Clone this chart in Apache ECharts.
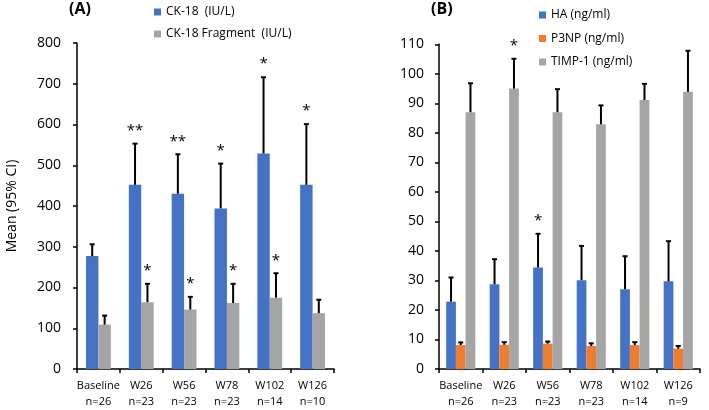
<!DOCTYPE html>
<html><head><meta charset="utf-8">
<script src="https://cdn.jsdelivr.net/npm/echarts@6/dist/echarts.min.js"></script>
<style>html,body{margin:0;padding:0;background:#fff}#c{width:709px;height:410px}</style>
</head><body><div id="c"></div>
<script>
// ---- data ----
const catsA = ['Baseline\nn=26','W26\nn=23','W56\nn=23','W78\nn=23','W102\nn=14','W126\nn=10'];
const catsB = ['Baseline\nn=26','W26\nn=23','W56\nn=23','W78\nn=23','W102\nn=14','W126\nn=9'];
const yTicksA = [0, 800, 100];   // min, max, interval
const yTicksB = [0, 110, 10];

const ck18      = [277, 452, 430, 394, 529, 452];
const ck18Upper = [306, 553, 527, 504, 716, 601];
const ck18Sig   = ['', '**', '**', '*', '*', '*'];

const ckFrag      = [109, 164, 146, 162, 175, 137];
const ckFragUpper = [131, 209, 177, 209, 235, 170];
const ckFragSig   = ['', '*', '*', '*', '*', ''];

const ha      = [22.8, 28.7, 34.4, 30.1, 27.0, 29.7];
const haUpper = [31.0, 37.2, 45.8, 41.7, 38.2, 43.3];
const haSig   = ['', '', '*', '', '', ''];

const p3np      = [8.1, 8.2, 8.6, 7.8, 8.1, 6.9];
const p3npUpper = [9.0, 9.1, 9.3, 8.7, 9.1, 7.8];
const p3npSig   = ['', '', '', '', '', ''];

const timp      = [87.0, 95.0, 87.0, 82.9, 91.1, 93.9];
const timpUpper = [96.8, 105.1, 94.8, 89.3, 96.6, 107.8];
const timpSig   = ['', '*', '', '', '', ''];

// ---- styles ----
const FONT = 'Open Sans';
const BLUE = '#4472C4', GREY = '#A5A5A5', ORANGE = '#ED7D31';
const gapA = 0.42, gapB = 0.33;

function errSeries(name, vals, upper, sig, idx, n, gap, axis) {
  return {
    type: 'custom', name: name + '_err', xAxisIndex: axis, yAxisIndex: axis, z: 10, clip: false,
    silent: true,
    data: vals.map((v, i) => [i, v, upper[i]]),
    renderItem: function (params, api) {
      const x = api.value(0), v = api.value(1), e = api.value(2);
      const band = api.size([1, 0])[0];
      const total = band * (1 - gap);
      const bw = total / n;
      const base = api.coord([x, v]);
      const cx = base[0] - total / 2 + bw * (idx + 0.5);
      const top = api.coord([x, e])[1];
      const children = [
        { type: 'line', shape: { x1: cx, y1: base[1], x2: cx, y2: top }, style: { stroke: '#000', lineWidth: 2 } },
        { type: 'line', shape: { x1: cx - 2.5, y1: top, x2: cx + 2.5, y2: top }, style: { stroke: '#000', lineWidth: 2 } }
      ];
      const s = sig[params.dataIndex];
      if (s) {
        children.push({ type: 'text', style: { text: s, x: cx, y: top - 13, align: 'center', verticalAlign: 'middle', font: '15px "' + FONT + '"', fill: '#000' } });
      }
      return { type: 'group', children: children };
    }
  };
}

function barSeries(name, vals, color, axis, gap) {
  return { type: 'bar', name: name, data: vals, xAxisIndex: axis, yAxisIndex: axis,
    itemStyle: { color: color }, barGap: '0%', barCategoryGap: (gap * 100) + '%' };
}

function xAxis(cats, grid) {
  return { type: 'category', data: cats, gridIndex: grid,
    axisLine: { lineStyle: { color: '#000', width: 1.5 } },
    axisTick: { show: true, length: 4, lineStyle: { color: '#000', width: 1.5 } },
    axisLabel: { fontFamily: FONT, fontSize: 11, color: '#000', lineHeight: 16, margin: 9, interval: 0 } };
}
function yAxis(t, grid, extra) {
  return Object.assign({ type: 'value', gridIndex: grid, min: t[0], max: t[1], interval: t[2],
    axisLine: { show: true, lineStyle: { color: '#000', width: 1.5 } },
    axisTick: { show: true, length: 4, lineStyle: { color: '#000', width: 1.5 } },
    splitLine: { show: false },
    axisLabel: { fontFamily: FONT, fontSize: 14, color: '#000', margin: 16 } }, extra || {});
}

const chart = echarts.init(document.getElementById('c'), null, { renderer: 'canvas' });
chart.setOption({
  animation: false,
  backgroundColor: '#fff',
  title: [
    { text: '(A)', left: 69, top: 1, padding: 0, textStyle: { fontFamily: FONT, fontSize: 16, fontWeight: 'bold', color: '#000' } },
    { text: '(B)', left: 431, top: 1, padding: 0, textStyle: { fontFamily: FONT, fontSize: 16, fontWeight: 'bold', color: '#000' } }
  ],
  legend: [
    { orient: 'vertical', left: 154, top: 5, padding: 0, itemWidth: 7, itemHeight: 7, itemGap: 8, icon: 'rect',
      data: ['CK-18  (IU/L)', 'CK-18 Fragment  (IU/L)'],
      textStyle: { fontFamily: FONT, fontSize: 12, color: '#000', lineHeight: 14 } },
    { orient: 'vertical', left: 539, top: 8, padding: 0, itemWidth: 7, itemHeight: 7, itemGap: 9.5, icon: 'rect',
      data: ['HA (ng/ml)', 'P3NP (ng/ml)', 'TIMP-1 (ng/ml)'],
      textStyle: { fontFamily: FONT, fontSize: 12, color: '#000', lineHeight: 14 } }
  ],
  grid: [
    { left: 77, right: 375, top: 43, bottom: 41 },
    { left: 439, right: 9, top: 44.3, bottom: 41 }
  ],
  xAxis: [xAxis(catsA, 0), xAxis(catsB, 1)],
  yAxis: [
    yAxis(yTicksA, 0, { name: 'Mean (95% CI)', nameLocation: 'middle', nameGap: 58, nameRotate: 90,
      nameTextStyle: { fontFamily: FONT, fontSize: 14, color: '#000' } }),
    yAxis(yTicksB, 1, { axisLabel: { fontFamily: FONT, fontSize: 14, color: '#000', margin: 15 } })
  ],
  series: [
    barSeries('CK-18  (IU/L)', ck18, BLUE, 0, gapA),
    barSeries('CK-18 Fragment  (IU/L)', ckFrag, GREY, 0, gapA),
    barSeries('HA (ng/ml)', ha, BLUE, 1, gapB),
    barSeries('P3NP (ng/ml)', p3np, ORANGE, 1, gapB),
    barSeries('TIMP-1 (ng/ml)', timp, GREY, 1, gapB),
    errSeries('ck18', ck18, ck18Upper, ck18Sig, 0, 2, gapA, 0),
    errSeries('ckfrag', ckFrag, ckFragUpper, ckFragSig, 1, 2, gapA, 0),
    errSeries('ha', ha, haUpper, haSig, 0, 3, gapB, 1),
    errSeries('p3np', p3np, p3npUpper, p3npSig, 1, 3, gapB, 1),
    errSeries('timp', timp, timpUpper, timpSig, 2, 3, gapB, 1)
  ]
});
</script></body></html>
